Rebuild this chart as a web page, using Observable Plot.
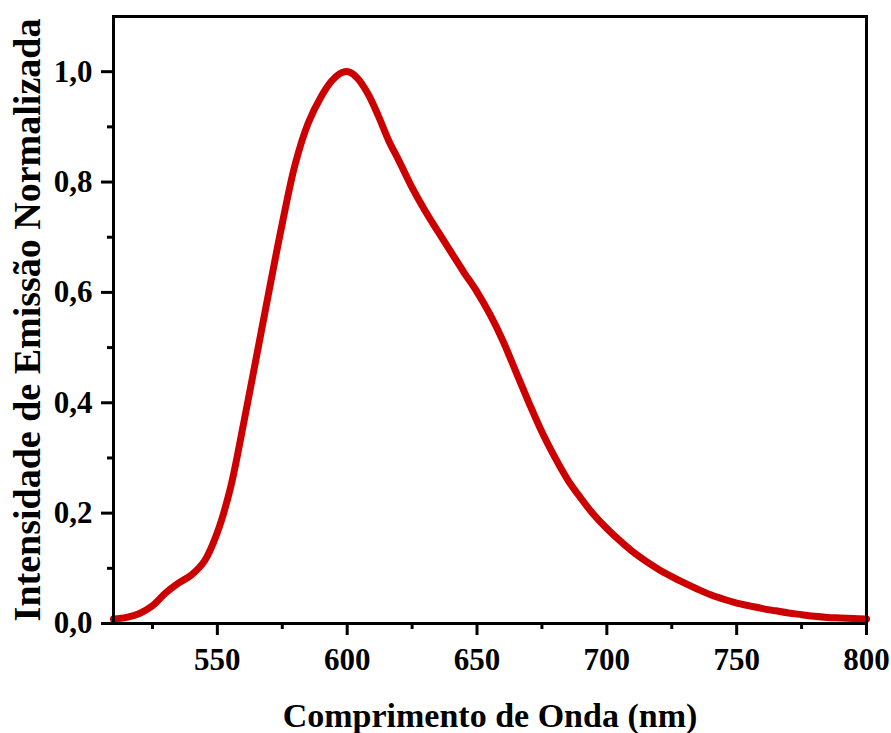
<!DOCTYPE html>
<html>
<head>
<meta charset="utf-8">
<script src="https://cdn.jsdelivr.net/npm/d3@7"></script>
<script src="https://cdn.jsdelivr.net/npm/@observablehq/plot@0.6"></script>
<style>
  html, body { margin: 0; padding: 0; background: #fff; }
  #chart { width: 891px; height: 733px; }
</style>
</head>
<body>
<div id="chart"></div>
<script>
// Wavelength (nm)
const wavelength = [510, 515, 520, 525, 530, 535, 540, 545, 550, 555, 560, 565, 570, 575, 580, 585, 590, 594, 597, 599, 601, 604,
  608, 612, 616, 620, 625, 630, 635, 640, 645, 650, 655, 660, 665, 670, 675, 680, 685, 690, 695, 700,
  705, 710, 715, 720, 725, 730, 735, 740, 745, 750, 755, 760, 765, 770, 775, 780, 785, 790, 795, 800];
// Normalized emission intensity
const intensity = [0.008, 0.011, 0.018, 0.032, 0.055, 0.073, 0.088, 0.113, 0.165, 0.245, 0.36, 0.482, 0.605, 0.725, 0.833, 0.907, 0.955, 0.983, 0.996, 1.0, 0.999, 0.988,
  0.96, 0.92, 0.875, 0.838, 0.79, 0.748, 0.71, 0.673, 0.636, 0.601, 0.56, 0.512, 0.456, 0.40, 0.347, 0.301, 0.26, 0.227, 0.197, 0.172,
  0.15, 0.13, 0.113, 0.098, 0.085, 0.073, 0.062, 0.052, 0.044, 0.037, 0.032, 0.027, 0.023, 0.019, 0.016, 0.013, 0.011, 0.010, 0.009, 0.008];

const xMajorTicks = [550, 600, 650, 700, 750, 800];
const xMinorTicks = [525, 575, 625, 675, 725, 775];
const yMajorTicks = [0, 0.2, 0.4, 0.6, 0.8, 1.0];
const yMinorTicks = [0.1, 0.3, 0.5, 0.7, 0.9];
const xTitle = "Comprimento de Onda (nm)";
const yTitle = "Intensidade de Emissão Normalizada";

const data = wavelength.map((w, i) => ({w, v: intensity[i]}));
const fmtY = d => d.toFixed(1).replace(".", ",");

const chart = Plot.plot({
  width: 891,
  height: 733,
  marginLeft: 113,
  marginRight: 25,
  marginTop: 16,
  marginBottom: 110,
  x: {domain: [510, 800]},
  y: {domain: [0, 1.1]},
  style: {
    fontFamily: "'Liberation Serif', 'Times New Roman', serif",
    fontWeight: "bold",
    background: "#fff",
    color: "#000"
  },
  marks: [
    Plot.axisX({ticks: xMajorTicks, tickSize: 12, tickPadding: 12, strokeWidth: 3, strokeOpacity: 1, fontSize: 31, label: null, tickFormat: d => String(d)}),
    Plot.axisX({ticks: xMinorTicks, tickSize: 6, strokeWidth: 3, strokeOpacity: 1, text: null, label: null}),
    Plot.axisY({ticks: yMajorTicks, tickSize: 12, tickPadding: 9, strokeWidth: 3, strokeOpacity: 1, fontSize: 31, label: null, tickFormat: fmtY}),
    Plot.axisY({ticks: yMinorTicks, tickSize: 6, strokeWidth: 3, strokeOpacity: 1, text: null, label: null}),
    Plot.line(data, {x: "w", y: "v", stroke: "#cc0000", strokeWidth: 7, curve: "catmull-rom", strokeLinejoin: "round"}),
    Plot.frame({stroke: "#000", strokeWidth: 3}),
    Plot.text([xTitle], {frameAnchor: "bottom", dy: 93, fontSize: 34, fontWeight: "bold", textAnchor: "middle", lineAnchor: "middle", fill: "#000"}),
    Plot.text([yTitle], {frameAnchor: "left", dx: -86, rotate: -90, fontSize: 38, fontWeight: "bold", textAnchor: "middle", lineAnchor: "middle", fill: "#000"})
  ]
});
document.getElementById("chart").appendChild(chart);
</script>
</body>
</html>
